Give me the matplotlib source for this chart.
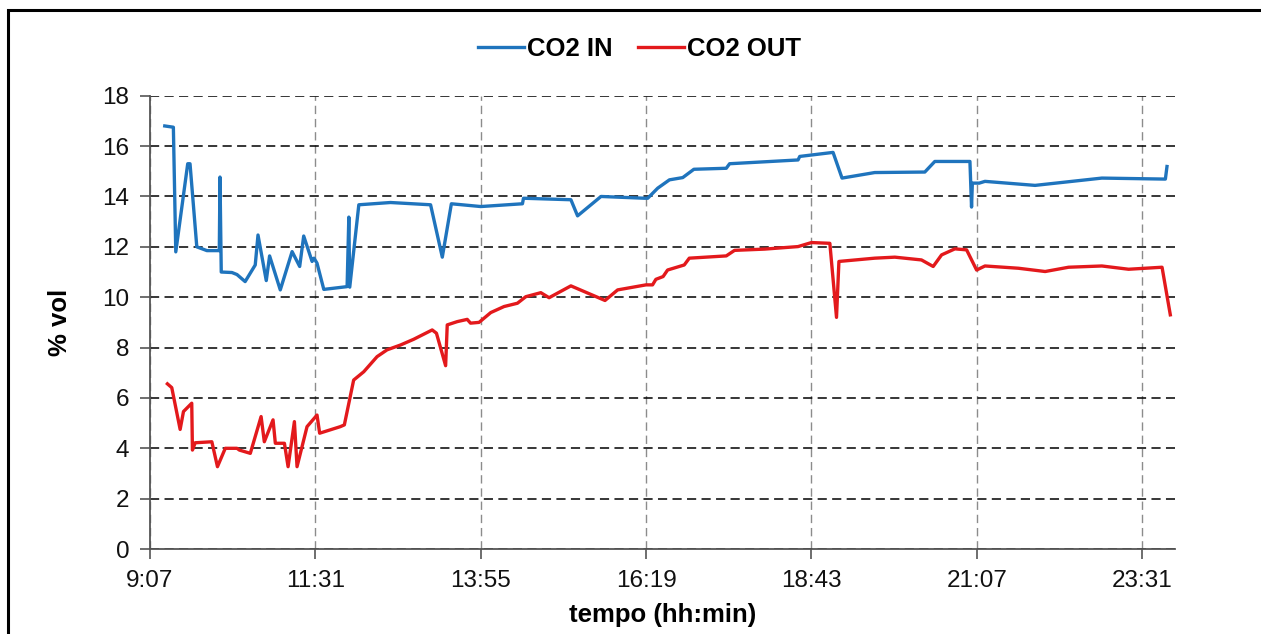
import matplotlib.pyplot as plt
import matplotlib.patches as patches
from matplotlib.ticker import FuncFormatter
import numpy as np

plt.rcParams['font.family'] = ['Liberation Sans', 'DejaVu Sans']

# Tempo em minutos desde 0:00 e concentração (% vol)
tempo_in = [560, 567.5, 569.6, 580, 582, 587.9, 596.7, 607.5, 608.1, 609.2, 618.5, 622.9, 630, 638.8, 641.2,
            648.4, 651.3, 660.6, 670.9, 677.5, 681, 688.3, 690, 692.6, 698.5, 718.8, 720.3, 721.1, 729, 756.6,
            791.5, 801.7, 809.6, 835.2, 871.5, 872.4, 913.7, 919.5, 924, 939.9, 977.7, 980.6, 989.3, 999.5,
            1011.1, 1020.8, 1049, 1051.9, 1111.5, 1113, 1142, 1149.8, 1178.3, 1221.9, 1230.6, 1261.2, 1262.6,
            1263.3, 1269.3, 1274.3, 1317.9, 1376.1, 1431.4, 1432.8]
co2_in = [16.8, 16.75, 11.8, 15.3, 15.3, 12.0, 11.85, 11.85, 14.77, 11.0, 10.98, 10.9, 10.62, 11.28, 12.47,
          10.66, 11.64, 10.29, 11.81, 11.22, 12.43, 11.42, 11.55, 11.35, 10.31, 10.42, 13.18, 10.4, 13.67, 13.76,
          13.67, 11.59, 13.71, 13.6, 13.71, 13.93, 13.87, 13.23, 13.4, 14.0, 13.93, 13.93, 14.33, 14.66,
          14.75, 15.08, 15.12, 15.3, 15.45, 15.59, 15.75, 14.73, 14.95, 14.97, 15.39, 15.39, 13.58,
          14.53, 14.53, 14.6, 14.44, 14.73, 14.69, 15.19]

tempo_out = [562.3, 566.1, 573.4, 576.3, 583.5, 584.1, 586.5, 601, 605.9, 612.7, 622.9, 625, 634.5, 643.9,
             646.7, 654.3, 656.3, 664.2, 667.4, 672.9, 675.2, 683.9, 692.6, 694.9, 712.9, 716.4, 724.5, 733.3,
             744.9, 753.6, 765.2, 776.8, 792.9, 796.6, 804.6, 806, 814.7, 823.4, 826.3, 833.7, 843.9, 855.5,
             867.1, 874.4, 887.5, 894.7, 913.7, 943.4, 954.4, 979.1, 984.8, 987.7, 994, 997.9, 1012.4, 1016.8,
             1049, 1056.2, 1082.4, 1111.5, 1123.2, 1139.2, 1145, 1147.1, 1178.3, 1195.8, 1219, 1229.2, 1236.5,
             1248.1, 1258.3, 1267, 1274.3, 1303.4, 1326.7, 1347.1, 1376.1, 1399.4, 1428.5, 1435.7]
co2_out = [6.56, 6.41, 4.75, 5.46, 5.79, 3.93, 4.22, 4.26, 3.27, 4.0, 4.0, 3.93, 3.8, 5.26,
           4.26, 5.13, 4.2, 4.2, 3.27, 5.06, 3.27, 4.86, 5.32, 4.6, 4.86, 4.93, 6.71, 7.04,
           7.64, 7.91, 8.1, 8.33, 8.7, 8.57, 7.28, 8.9, 9.03, 9.12, 8.97, 9.0, 9.39, 9.63,
           9.76, 10.02, 10.18, 9.98, 10.45, 9.87, 10.29, 10.49, 10.49, 10.71, 10.82, 11.08, 11.28, 11.55,
           11.64, 11.86, 11.91, 12.01, 12.17, 12.14, 9.2, 11.42, 11.55, 11.59, 11.48, 11.22, 11.68,
           11.92, 11.88, 11.08, 11.24, 11.15, 11.02, 11.19, 11.24, 11.11, 11.19, 9.3]

# eixo x em fração de dia (como no Excel)
x_in = np.array(tempo_in) / 1440
x_out = np.array(tempo_out) / 1440


def hhmm(v, pos):
    m = int(round(v * 1440))
    return '%d:%02d' % (m // 60, m % 60)


fig = plt.figure(figsize=(12.61, 6.34), dpi=100)
ax = fig.add_axes([0.119, 0.134, 0.813, 0.715])

ax.plot(x_in, co2_in, color='#1f74bd', lw=2.4, label='CO2 IN', solid_joinstyle='round')
ax.plot(x_out, co2_out, color='#e3191c', lw=2.4, label='CO2 OUT', solid_joinstyle='round')

ax.set_xlim(0.38, 1.0)
ax.set_ylim(0, 18)
ax.set_xticks(np.arange(0.38, 0.99, 0.1))
ax.set_yticks(range(0, 19, 2))
ax.xaxis.set_major_formatter(FuncFormatter(hhmm))

ax.grid(axis='y', color='black', lw=1.1, linestyle=(0, (6, 3.5)))
ax.grid(axis='x', color='#8c8c8c', lw=1.0, linestyle=(0, (6, 3.5)))
ax.set_axisbelow(True)

for s in ['top', 'right']:
    ax.spines[s].set_visible(False)
for s in ['left', 'bottom']:
    ax.spines[s].set_color('#555555')
    ax.spines[s].set_linewidth(1.3)
ax.tick_params(direction='out', length=7, width=1.2, color='#555555', labelsize=17.5, labelcolor='#111111')
ax.tick_params(axis='y', pad=8)
ax.tick_params(axis='x', pad=8)

ax.set_xlabel('tempo (hh:min)', fontsize=18.5, fontweight='bold', labelpad=8)
ax.set_ylabel('% vol', fontsize=18.5, fontweight='bold', labelpad=22)

fig.legend(loc='center', bbox_to_anchor=(0.507, 0.922), ncol=2, frameon=False,
           prop={'size': 18.5, 'weight': 'bold'}, handlelength=1.8, handletextpad=0.1,
           columnspacing=1.0)

# moldura externa
fig.patches.append(patches.Rectangle((0.0063, -0.5), 2, 1.484, transform=fig.transFigure,
                                     fill=False, lw=2.2, edgecolor='black'))

plt.savefig('out.png', dpi=100)
